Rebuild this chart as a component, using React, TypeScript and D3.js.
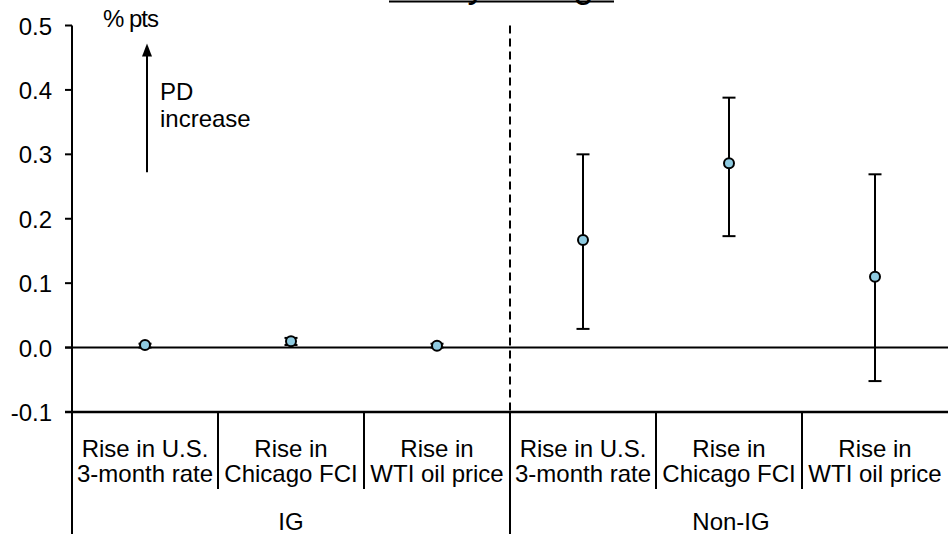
import React from "react";
import * as d3 from "d3";

const categories = [
  ["Rise in U.S.", "3-month rate"],
  ["Rise in", "Chicago FCI"],
  ["Rise in", "WTI oil price"],
  ["Rise in U.S.", "3-month rate"],
  ["Rise in", "Chicago FCI"],
  ["Rise in", "WTI oil price"],
];
const groups = ["IG", "Non-IG"];
const pointValues = [0.004, 0.01, 0.003, 0.167, 0.286, 0.11];
const lowerValues = [0.0, 0.004, 0.0, 0.029, 0.173, -0.052];
const upperValues = [0.006, 0.015, 0.006, 0.3, 0.388, 0.269];
const yTicks = [0.5, 0.4, 0.3, 0.2, 0.1, 0.0, -0.1];
const title = "Policy change";

const W = 948;
const H = 534;
const FONT = "'Liberation Sans', Arial, sans-serif";

export default function App() {
  const x = d3.scaleBand<number>().domain(d3.range(categories.length)).range([72, 948]).padding(0);
  const y = d3.scaleLinear().domain([-0.1, 0.5]).range([412, 25.5]);
  const groupSize = categories.length / groups.length;
  const bw = x.bandwidth();
  const cx = (i: number) => (x(i) as number) + bw / 2;
  const yBottom = y(-0.1);

  return (
    <svg width={W} height={H} style={{ position: "absolute", left: 0, top: 0, background: "#fff" }} fontFamily={FONT}>
      <rect x={0} y={0} width={W} height={H} fill="#fff" />
      {/* title, mostly off-canvas as in the reference */}
      <text x={(389 + 614) / 2} y={-3.5} textAnchor="middle" fontSize={36} fill="#000">{title}</text>
      <line x1={389} x2={614} y1={1.5} y2={1.5} stroke="#000" strokeWidth={2} />

      {/* y axis */}
      <line x1={72} x2={72} y1={y(0.5)} y2={H} stroke="#000" strokeWidth={2} />
      {yTicks.map((t) => (
        <g key={t}>
          <line x1={65} x2={72} y1={y(t)} y2={y(t)} stroke="#000" strokeWidth={2} />
          <text x={52} y={y(t) + 9} textAnchor="end" fontSize={24} fill="#000">
            {t.toFixed(1)}
          </text>
        </g>
      ))}

      {/* zero line and bottom axis */}
      <line x1={65} x2={W} y1={y(0)} y2={y(0)} stroke="#000" strokeWidth={2} />
      <line x1={65} x2={W} y1={yBottom} y2={yBottom} stroke="#000" strokeWidth={2.5} />

      {/* dashed group divider */}
      <line x1={x(groupSize) as number} x2={x(groupSize) as number} y1={y(0.5)} y2={yBottom} stroke="#000" strokeWidth={2} strokeDasharray="8,5" />

      {/* category separators */}
      {d3.range(1, categories.length).map((i) => {
        const isGroup = i % groupSize === 0;
        return (
          <line key={i} x1={x(i) as number} x2={x(i) as number} y1={yBottom} y2={isGroup ? H : 489} stroke="#000" strokeWidth={2} />
        );
      })}

      {/* category labels */}
      {categories.map((lines, i) => (
        <text key={i} textAnchor="middle" fontSize={24} fill="#000">
          <tspan x={cx(i)} y={457}>{lines[0]}</tspan>
          <tspan x={cx(i)} y={482}>{lines[1]}</tspan>
        </text>
      ))}

      {/* group labels */}
      {groups.map((g, gi) => {
        const x0 = x(gi * groupSize) as number;
        const x1 = (x(gi * groupSize + groupSize - 1) as number) + bw;
        return (
          <text key={g} x={(x0 + x1) / 2 + (gi === 1 ? 2 : 0)} y={530} textAnchor="middle" fontSize={24} fill="#000">{g}</text>
        );
      })}

      {/* arrow annotation */}
      <line x1={147} x2={147} y1={y(0.272)} y2={y(0.455)} stroke="#000" strokeWidth={2} />
      <path d={`M147,${y(0.472)} L142,${y(0.452)} L152,${y(0.452)} Z`} fill="#000" />
      <text x={103} y={27} fontSize={24} fill="#000" letterSpacing={-1}>% pts</text>
      <text x={160} y={100} fontSize={24} fill="#000">PD</text>
      <text x={160} y={127} fontSize={24} fill="#000">increase</text>

      {/* error bars */}
      {pointValues.map((v, i) => (
        <g key={i} stroke="#000" strokeWidth={2}>
          <line x1={cx(i)} x2={cx(i)} y1={y(lowerValues[i])} y2={y(upperValues[i])} />
          <line x1={cx(i) - 6.5} x2={cx(i) + 6.5} y1={y(lowerValues[i])} y2={y(lowerValues[i])} />
          <line x1={cx(i) - 6.5} x2={cx(i) + 6.5} y1={y(upperValues[i])} y2={y(upperValues[i])} />
        </g>
      ))}
      {/* points */}
      {pointValues.map((v, i) => (
        <circle key={i} cx={cx(i)} cy={y(v)} r={5} fill="#8ECAE0" stroke="#000" strokeWidth={2} />
      ))}
    </svg>
  );
}
